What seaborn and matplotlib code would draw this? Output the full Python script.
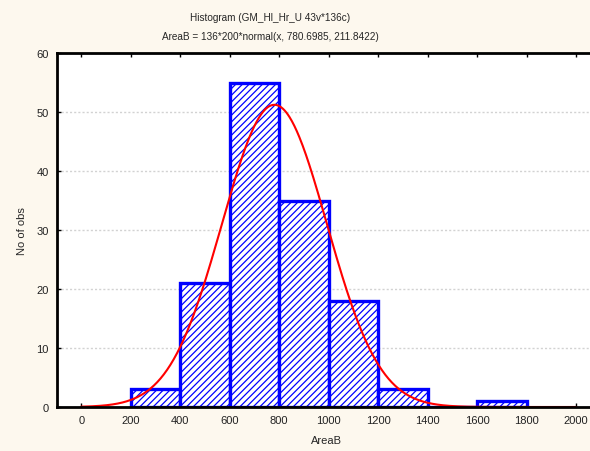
import numpy as np
import pandas as pd
import matplotlib
matplotlib.use("Agg")
import matplotlib.pyplot as plt
import seaborn as sns

bin_edges = [200, 400, 600, 800, 1000, 1200, 1400, 1600, 1800]
counts = [3, 21, 55, 35, 18, 3, 0, 1]
n_obs = 136
bin_width = 200
mean = 780.6985
sd = 211.8422
x_ticks = [0, 200, 400, 600, 800, 1000, 1200, 1400, 1600, 1800, 2000]
y_ticks = [0, 10, 20, 30, 40, 50, 60]

sns.set_theme(style="white")
plt.rcParams['font.family'] = ['Liberation Sans', 'DejaVu Sans']
plt.rcParams['hatch.linewidth'] = 0.9

bg = "#fdf8ee"
fig = plt.figure(figsize=(5.9, 4.52), dpi=100, facecolor=bg)
ax = fig.add_axes([57/590, 1 - 408/452, 1 - 57/590 + 0.01, (408 - 54)/452])
ax.set_facecolor("white")

centers = [(a + b) / 2 for a, b in zip(bin_edges[:-1], bin_edges[1:])]
df = pd.DataFrame({"AreaB": centers, "w": counts})
sns.histplot(data=df, x="AreaB", weights="w", bins=bin_edges, ax=ax,
             stat="count", color="white", edgecolor="#0000ff", linewidth=2.4,
             alpha=1.0, hatch="/////")
for p in ax.patches:
    p.set_facecolor("white")
    p.set_edgecolor("#0000ff")
    p.set_hatch("/////")

xs = np.linspace(0, 2000, 600)
ys = n_obs * bin_width * np.exp(-0.5 * ((xs - mean) / sd) ** 2) / (sd * np.sqrt(2 * np.pi))
sns.lineplot(x=xs, y=ys, ax=ax, color="#ff0000", linewidth=1.5)

ax.set_xlim(-98, 2080)
ax.set_ylim(0, 60)
ax.set_xticks(x_ticks)
ax.set_yticks(y_ticks)
ax.tick_params(axis="both", labelsize=8, colors="black", direction="in", length=3,
               width=1, pad=6)
ax.tick_params(axis="x", top=True, bottom=True)
ax.tick_params(axis="y", left=True)
for lbl in ax.get_xticklabels() + ax.get_yticklabels():
    lbl.set_color("#222222")
ax.yaxis.grid(True, color="#d2d2d2", linestyle=(0, (1.5, 1.5)), linewidth=1)
ax.set_axisbelow(True)
for s in ["left", "bottom", "top"]:
    ax.spines[s].set_color("black")
    ax.spines[s].set_linewidth(2)
ax.spines["right"].set_visible(False)

ax.set_xlabel("AreaB", fontsize=8, labelpad=7)
ax.set_ylabel("No of obs", fontsize=8, labelpad=7)
fig.text(270/590, 1 - 18/452, "Histogram (GM_Hl_Hr_U 43v*136c)", ha="center", va="center", fontsize=7.2)
fig.text(270/590, 1 - 37/452, "AreaB = 136*200*normal(x, 780.6985, 211.8422)", ha="center", va="center", fontsize=7.2)

fig.savefig("out.png", dpi=100, facecolor=bg)
